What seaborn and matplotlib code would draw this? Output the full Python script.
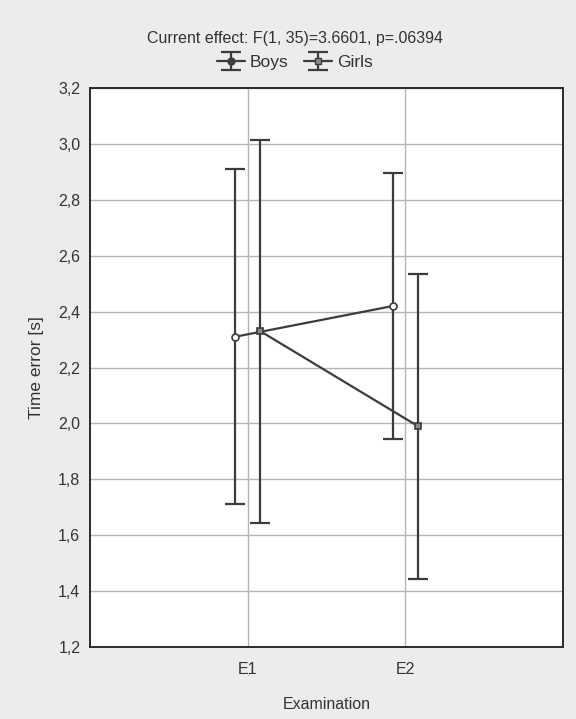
import matplotlib
matplotlib.use("Agg")
import matplotlib.pyplot as plt
from matplotlib.lines import Line2D
import numpy as np
import pandas as pd
import seaborn as sns

# Group means and 95% confidence half-widths per examination
examinations = ["E1", "E2"]
groups = ["Boys", "Girls"]
boys_mean = [2.31, 2.42]
boys_ci = [0.60, 0.475]
girls_mean = [2.33, 1.99]
girls_ci = [0.685, 0.545]

y_ticks = [1.2, 1.4, 1.6, 1.8, 2.0, 2.2, 2.4, 2.6, 2.8, 3.0, 3.2]
title_text = "Current effect: F(1, 35)=3.6601, p=.06394"

df = pd.DataFrame({
    "Examination": examinations * 2,
    "Group": ["Boys"] * 2 + ["Girls"] * 2,
    "Time error [s]": boys_mean + girls_mean,
    "ci": boys_ci + girls_ci,
})

sns.set_theme(style="white")
plt.rcParams["font.family"] = ["Liberation Sans", "DejaVu Sans"]

fig = plt.figure(figsize=(5.76, 7.19), dpi=100, facecolor="#ececee")
ax = fig.add_axes([0.1563, 0.1001, 0.8212, 0.7775])
ax.set_facecolor("white")

line_col = "#3c3c3c"
text_col = "#333333"
dodge = 0.16

# Means connected across examinations
sns.pointplot(
    data=df, x="Examination", y="Time error [s]", hue="Group",
    order=examinations, hue_order=groups,
    palette=[line_col, line_col], markers=["o", "s"], linestyles=["-", "-"],
    dodge=dodge, errorbar=None, linewidth=1.6, markersize=5,
    legend=False, ax=ax, zorder=4,
)

# Style the markers: open circle for boys, grey square for girls
for line, face in zip(ax.lines[:2], ["white", "#8a8a8a"]):
    line.set_markerfacecolor(face)
    line.set_markeredgecolor(line_col)
    line.set_markeredgewidth(1.2)

# Confidence-interval whiskers, placed at the dodged category positions
offsets = np.linspace(0, dodge, len(groups))
offsets -= offsets.mean()
handles = []
for gi, (g, face, mk) in enumerate(zip(groups, ["white", "#8a8a8a"], ["o", "s"])):
    sub = df[df["Group"] == g]
    xpos = np.arange(len(examinations)) + offsets[gi]
    eb = ax.errorbar(xpos, sub["Time error [s]"], yerr=sub["ci"], fmt="none",
                     ecolor=line_col, elinewidth=1.6, capsize=7.5,
                     capthick=1.6, zorder=3)
    mline = Line2D([], [], color=line_col, marker=mk, markersize=5,
                   markerfacecolor=face if g == "Girls" else line_col,
                   markeredgecolor=line_col, linewidth=1.6)
    handles.append((eb, mline))

ax.set_xlim(-1, 2)
ax.set_ylim(1.2, 3.2)
ax.set_yticks(y_ticks)
ax.set_yticklabels([f"{v:.1f}".replace(".", ",") for v in y_ticks])
ax.set_xticks(range(len(examinations)))
ax.set_xticklabels(examinations)

ax.grid(True, color="#b4b4b4", linewidth=1.0)
ax.set_axisbelow(True)
for sp in ax.spines.values():
    sp.set_visible(True)
    sp.set_color("#2a2a2a")
    sp.set_linewidth(1.4)

ax.tick_params(axis="both", direction="in", length=4, width=1.0,
               colors="#2a2a2a", labelsize=11.5, labelcolor=text_col)
ax.tick_params(axis="x", pad=11)
ax.tick_params(axis="y", pad=7)
ax.set_xlabel("Examination", fontsize=11.5, color=text_col, labelpad=14)
ax.set_ylabel("Time error [s]", fontsize=12.5, color=text_col, labelpad=10)

fig.text(0.512, 0.947, title_text, ha="center", va="center",
         fontsize=11.5, color=text_col)
fig.legend(handles, groups, loc="center", bbox_to_anchor=(0.512, 0.913),
           ncol=2, frameon=False, fontsize=12.5, handlelength=1.6,
           handletextpad=0.3, columnspacing=0.9, labelcolor=text_col)

fig.savefig("out.png", dpi=100, facecolor=fig.get_facecolor())
